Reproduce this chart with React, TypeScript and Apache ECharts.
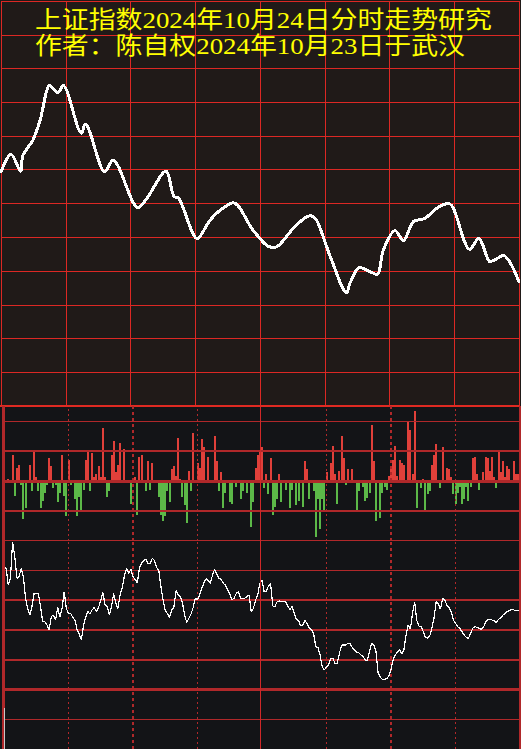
import React, { useEffect, useRef } from 'react';
import * as echarts from 'echarts';

const titleLine1 = '上证指数2024年10月24日分时走势研究';
const titleLine2 = '作者：陈自权2024年10月23日于武汉';

// Intraday index line (minute of session, index level)
const priceMinutes = [0, 4.6, 9.1, 10.1, 14.8, 18.1, 22.7, 26.4, 28.7, 37.4, 38.9, 48.2, 51.8, 63.6, 67.5, 76.4, 80.2, 82.1, 91.0, 96.8, 101.5, 107.6, 116.9, 125.4, 127.9, 135.4, 143.2, 146.3, 153.2, 160.2, 161.7, 166.3, 174.1, 177.1, 182.6, 186.4, 191.0, 196.4, 201.9, 207.2, 209.6, 217.3, 221.2, 225.8, 226.6, 232.7, 240];
const priceValues = [3294.7, 3297.3, 3294.8, 3297.1, 3299.4, 3302.3, 3307.5, 3306.4, 3307.5, 3300.4, 3301.8, 3294.7, 3296.4, 3289.4, 3290.7, 3294.8, 3291.0, 3290.9, 3284.8, 3287.5, 3289.0, 3290.1, 3286.0, 3283.5, 3283.6, 3286.3, 3288.2, 3287.5, 3281.6, 3276.8, 3278.2, 3280.5, 3279.5, 3283.1, 3286.0, 3284.5, 3287.3, 3287.8, 3289.3, 3290.0, 3289.3, 3283.2, 3284.8, 3281.6, 3281.4, 3282.3, 3278.4];

// Red (up) bars
const upMinutes = [0, 2, 4, 6, 7, 12, 14, 15, 21, 22, 27, 30, 38, 39, 41, 42, 43, 44, 45, 46, 47, 50, 51, 52, 53, 54, 56, 61, 63, 64, 67, 69, 78, 79, 80, 81, 82, 86, 88, 90, 91, 92, 93, 95, 98, 99, 101, 117, 118, 119, 120, 122, 124, 128, 140, 141, 150, 152, 153, 154, 156, 157, 158, 160, 162, 171, 172, 179, 180, 181, 182, 183, 184, 185, 186, 188, 189, 190, 191, 195, 199, 200, 201, 204, 206, 207, 208, 218, 219, 220, 223, 224, 225, 226, 227, 228, 230, 231, 232, 233, 234, 235, 237, 238, 239, 240];
const upValues = [26, 2, 26, 13, 16, 16, 29, 4, 23, 15, 26, 21, 21, 31, 28, 4, 7, 15, 4, 53, 4, 26, 40, 9, 16, 38, 32, 4, 24, 26, 20, 18, 12, 15, 5, 43, 2, 10, 48, 18, 13, 42, 34, 24, 45, 20, 9, 13, 26, 31, 34, 7, 23, 7, 20, 12, 9, 18, 35, 7, 10, 45, 23, 12, 12, 56, 20, 5, 15, 21, 35, 5, 21, 18, 16, 60, 51, 7, 70, 2, 16, 26, 37, 34, 13, 12, 4, 23, 24, 7, 9, 24, 23, 10, 24, 4, 29, 9, 20, 4, 15, 12, 20, 7, 7, 15];

// Green (down) bars
const downMinutes = [3, 5, 8, 9, 10, 13, 16, 17, 18, 19, 20, 23, 24, 25, 26, 28, 29, 31, 33, 34, 35, 36, 37, 40, 48, 49, 55, 57, 59, 62, 66, 68, 72, 73, 74, 75, 76, 77, 83, 84, 85, 87, 100, 102, 103, 105, 106, 108, 110, 111, 113, 115, 116, 121, 123, 125, 126, 127, 129, 131, 133, 134, 136, 137, 139, 142, 144, 145, 146, 147, 148, 149, 155, 159, 164, 165, 167, 168, 169, 170, 173, 175, 176, 177, 178, 192, 194, 196, 197, 198, 203, 209, 210, 211, 212, 213, 214, 215, 216, 217, 221, 222, 229];
const downValues = [2, 15, 4, 38, 27, 10, 10, 27, 20, 12, 4, 7, 4, 21, 12, 15, 35, 4, 18, 35, 16, 31, 9, 10, 16, 10, 2, 2, 23, 34, 10, 9, 16, 34, 40, 35, 10, 21, 16, 24, 42, 10, 10, 27, 12, 21, 23, 6, 18, 10, 12, 46, 21, 7, 13, 34, 26, 18, 21, 9, 27, 9, 24, 20, 26, 18, 10, 56, 18, 48, 18, 31, 23, 4, 31, 10, 6, 20, 17, 12, 40, 37, 12, 6, 9, 27, 7, 31, 13, 10, 7, 13, 23, 12, 6, 23, 18, 6, 20, 6, 9, 2, 7];

// Oscillator, one value per minute 0..240
const oscValues = [
  60.8, 60.5, 54.9, 57.2, 69.4, 64.5, 57.2, 57.7, 60.5, 57.7,
  50.5, 47.1, 44.9, 47.7, 52.1, 52.1, 51.9, 47.7, 42.6, 42.6,
  41.5, 39.9, 44.3, 44.9, 43.2, 47.4, 44.1, 47.1, 52.7, 47.1,
  45.4, 45.4, 44.1, 43.2, 39.9, 38.5, 36.5, 41.5, 44.1, 46.0,
  45.2, 46.6, 47.4, 46.0, 47.4, 49.9, 52.4, 48.2, 47.7, 44.9,
  47.7, 52.1, 48.8, 47.1, 51.6, 54.1, 57.9, 60.5, 58.8, 60.2,
  57.7, 56.8, 55.7, 60.5, 62.4, 63.1, 63.5, 62.2, 62.2, 63.9,
  63.1, 60.8, 59.7, 54.4, 49.9, 46.3, 45.4, 44.1, 46.6, 47.4,
  53.0, 51.6, 51.0, 49.0, 44.9, 42.3, 43.8, 45.2, 47.4, 50.5,
  49.9, 51.6, 53.8, 55.7, 57.0, 56.4, 55.5, 58.3, 60.2, 58.6,
  57.2, 56.8, 55.5, 54.9, 53.2, 52.1, 49.9, 50.5, 52.1, 52.7,
  50.5, 50.5, 50.5, 51.0, 51.6, 46.0, 47.1, 49.9, 51.6, 55.5,
  56.6, 52.7, 52.7, 54.6, 55.5, 47.9, 47.7, 49.3, 49.6, 49.3,
  49.3, 49.3, 47.9, 46.8, 47.7, 45.4, 43.4, 43.0, 41.2, 41.5,
  43.0, 41.9, 40.4, 40.1, 38.7, 34.3, 34.0, 31.5, 27.6, 26.5,
  27.6, 28.1, 30.4, 30.4, 28.5, 28.7, 32.0, 34.8, 34.8, 34.8,
  35.4, 35.2, 34.0, 33.2, 32.5, 32.3, 31.5, 31.1, 29.8, 29.6,
  32.6, 35.4, 34.8, 32.6, 25.6, 24.0, 23.3, 23.3, 23.6, 24.4,
  26.5, 30.0, 31.5, 32.5, 33.2, 31.8, 33.2, 38.2, 41.5, 40.1,
  45.4, 49.3, 43.0, 41.2, 41.0, 39.3, 37.4, 37.1, 37.8, 40.4,
  43.8, 49.3, 48.6, 46.8, 50.5, 49.9, 48.2, 47.4, 46.0, 43.2,
  42.1, 41.0, 40.4, 39.3, 38.2, 37.4, 37.1, 38.7, 40.4, 41.0,
  40.7, 40.4, 40.1, 40.7, 42.6, 43.2, 43.4, 43.2, 43.0, 42.3,
  43.4, 43.9, 44.8, 45.4, 46.0, 46.3, 46.8, 46.6, 46.3, 46.3,
  46.3,
];

const volLevels = [60, 30, 0, -30];
const volLevelWidths = [1, 2, 3, 2];
const oscLevels = [70, 60, 50, 40, 30, 20, 10];
const oscLevelWidths = [1, 1, 2, 2, 2, 3, 1];
const halfHourMinutes = [30, 60, 90, 150, 180, 210];

const TOP_RED = '#dc2824';
const LOW_RED = '#b0282a';
const TITLE_FONT = '"Liberation Serif", "Noto Sans CJK SC"';

function verticalDots() {
  return halfHourMinutes.map((m) => ({
    xAxis: m,
    lineStyle: {
      color: LOW_RED,
      width: m === 60 || m === 180 ? 2 : 1,
      type: m === 60 || m === 180 ? [3, 3] : [2, 3],
    },
  }));
}

export default function App() {
  const ref = useRef<HTMLDivElement>(null);
  useEffect(() => {
    const chart = echarts.init(ref.current!, null, { renderer: 'svg' });
    const priceData = priceMinutes.map((m, i) => [m, priceValues[i]]);
    const upData = upMinutes.map((m, i) => [m, upValues[i]]);
    const downData = downMinutes.map((m, i) => [m, -downValues[i]]);
    const oscData = oscValues.map((v, i) => [i, v]);

    const option: any = {
      animation: false,
      backgroundColor: '#131417',
      grid: [
        { left: 1, top: 1, width: 518, height: 405 },
        { left: 4, top: 406, width: 516, height: 135 },
        { left: 4, top: 540, width: 516, height: 209 },
      ],
      xAxis: [
        {
          gridIndex: 0, type: 'value', min: 0, max: 240, interval: 30,
          axisLabel: { show: false }, axisTick: { show: false },
          axisLine: { show: true, lineStyle: { color: '#e02a22', width: 2 } },
          splitLine: { show: true, lineStyle: { color: TOP_RED, width: 1 } },
        },
        { gridIndex: 1, type: 'value', min: 0, max: 240, show: false },
        { gridIndex: 2, type: 'value', min: 0, max: 240, show: false },
      ],
      yAxis: [
        {
          gridIndex: 0, type: 'value', min: 3260, max: 3320, interval: 5,
          axisLabel: { show: false }, axisTick: { show: false }, axisLine: { show: false },
          splitLine: { show: true, lineStyle: { color: TOP_RED, width: 1 } },
        },
        { gridIndex: 1, type: 'value', min: -60, max: 75, show: false },
        { gridIndex: 2, type: 'value', min: 0, max: 70, show: false },
      ],
      series: [
        {
          type: 'line', xAxisIndex: 0, yAxisIndex: 0, data: priceData,
          symbol: 'none', smooth: 0.3, z: 5,
          lineStyle: { color: '#ffffff', width: 3, join: 'round', cap: 'round' },
        },
        {
          type: 'bar', xAxisIndex: 1, yAxisIndex: 1, data: upData,
          barWidth: 2, barGap: '-100%', clip: false,
          itemStyle: { color: '#e0403a' },
          markLine: {
            silent: true, symbol: ['none', 'none'], label: { show: false }, z: 5,
            data: [
              ...volLevels.map((v, i) => ({ yAxis: v, lineStyle: { color: LOW_RED, width: volLevelWidths[i], type: 'solid' } })),
              ...verticalDots(),
            ],
          },
        },
        {
          type: 'bar', xAxisIndex: 1, yAxisIndex: 1, data: downData,
          barWidth: 2, barGap: '-100%', clip: false,
          itemStyle: { color: '#5cb848' },
        },
        {
          type: 'line', xAxisIndex: 2, yAxisIndex: 2, data: oscData,
          symbol: 'none', z: 6,
          lineStyle: { color: '#ffffff', width: 1.2 },
          markLine: {
            silent: true, symbol: ['none', 'none'], label: { show: false }, z: 3,
            data: [
              ...oscLevels.map((v, i) => ({ yAxis: v, lineStyle: { color: LOW_RED, width: oscLevelWidths[i], type: 'solid' } })),
              ...verticalDots(),
            ],
          },
        },
      ],
      graphic: [
        { type: 'rect', z: -10, silent: true, shape: { x: 0, y: 0, width: 521, height: 406 }, style: { fill: '#201a18' } },
        { type: 'line', z: 10, silent: true, shape: { x1: 3, y1: 406, x2: 3, y2: 749 }, style: { stroke: LOW_RED, lineWidth: 3 } },
        { type: 'line', z: 10, silent: true, shape: { x1: 520, y1: 406, x2: 520, y2: 749 }, style: { stroke: LOW_RED, lineWidth: 2 } },
        { type: 'line', z: 10, silent: true, shape: { x1: 260.5, y1: 407, x2: 260.5, y2: 749 }, style: { stroke: '#d02828', lineWidth: 1 } },
        { type: 'line', z: 10, silent: true, shape: { x1: 4.5, y1: 708, x2: 4.5, y2: 749 }, style: { stroke: '#c8c8c8', lineWidth: 1 } },
        {
          type: 'text', z: 20, silent: true, x: 35, y: 20, scaleX: 1.12,
          style: { text: titleLine1, fill: '#ffff00', fontSize: 24, fontFamily: TITLE_FONT, verticalAlign: 'middle', align: 'left' },
        },
        {
          type: 'text', z: 20, silent: true, x: 35, y: 46, scaleX: 1.12,
          style: { text: titleLine2, fill: '#ffff00', fontSize: 24, fontFamily: TITLE_FONT, verticalAlign: 'middle', align: 'left' },
        },
      ],
    };
    chart.setOption(option);
    return () => chart.dispose();
  }, []);
  return (
    <>
      <style>{`#intraday-chart svg path, #intraday-chart svg line, #intraday-chart svg rect { shape-rendering: crispEdges; }`}</style>
      <div id="intraday-chart" ref={ref} style={{ position: 'fixed', left: 0, top: 0, width: 521, height: 749 }} />
    </>
  );
}
